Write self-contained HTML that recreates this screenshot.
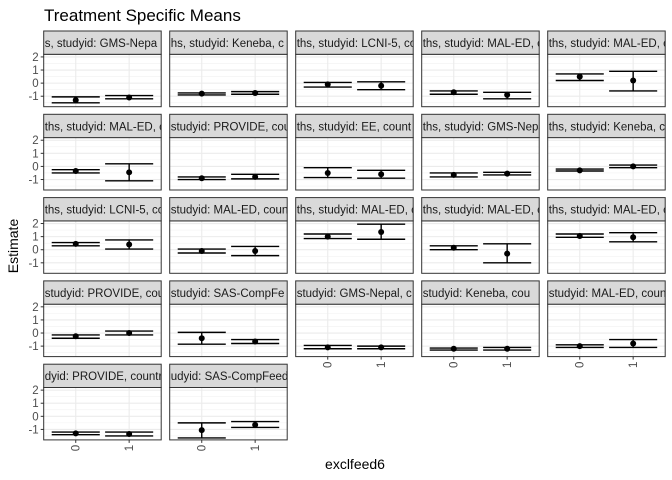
<!DOCTYPE html>
<html><head><meta charset="utf-8"><style>
html,body{margin:0;padding:0;background:#fff;}
svg{display:block;font-family:"Liberation Sans",sans-serif;}
</style></head><body>
<svg id="chart" width="672" height="480" viewBox="0 0 672 480">
<text x="44" y="21" font-size="17" fill="#000">Treatment Specific Means</text>
<text transform="translate(18,246) rotate(-90)" text-anchor="middle" font-size="14" fill="#000">Estimate</text>
<text x="355" y="469" text-anchor="middle" font-size="14" fill="#000">exclfeed6</text>
<g id="panels"></g>
</svg>
<script>
const stripLabels = ["s, studyid: GMS-Nepa","hs, studyid: Keneba, c","ths, studyid: LCNI-5, co","ths, studyid: MAL-ED, cou","ths, studyid: MAL-ED, c",
"ths, studyid: MAL-ED, c","studyid: PROVIDE, cou","ths, studyid: EE, count","ths, studyid: GMS-Nepal","ths, studyid: Keneba, c",
"ths, studyid: LCNI-5, co","studyid: MAL-ED, coun","ths, studyid: MAL-ED, c","ths, studyid: MAL-ED, c","ths, studyid: MAL-ED, c",
"studyid: PROVIDE, cou","studyid: SAS-CompFe","studyid: GMS-Nepal, c","studyid: Keneba, cou","studyid: MAL-ED, country",
"dyid: PROVIDE, countr","udyid: SAS-CompFeed"];
const categories = ["0","1"];
const est0 = [-1.3,-0.8,-0.1,-0.7,0.5, -0.35,-0.9,-0.5,-0.65,-0.3, 0.45,-0.1,1.0,0.15,1.05, -0.25,-0.4,-1.1,-1.2,-1.0, -1.3,-1.05];
const lo0  = [-1.5,-0.9,-0.3,-0.85,0.2, -0.5,-1.0,-0.85,-0.8,-0.35, 0.3,-0.25,0.85,0.0,0.95, -0.4,-0.85,-1.2,-1.3,-1.1, -1.4,-1.65];
const hi0  = [-1.05,-0.75,0.05,-0.6,0.7, -0.25,-0.8,-0.1,-0.5,-0.2, 0.55,0.05,1.2,0.3,1.2, -0.15,0.05,-0.95,-1.15,-0.9, -1.2,-0.5];
const est1 = [-1.1,-0.75,-0.2,-0.9,0.2, -0.45,-0.8,-0.6,-0.55,0.0, 0.4,-0.1,1.35,-0.3,0.95, 0.0,-0.65,-1.1,-1.2,-0.8, -1.35,-0.65];
const lo1  = [-1.2,-0.85,-0.5,-1.2,-0.6, -1.1,-0.95,-0.9,-0.65,-0.1, 0.05,-0.45,0.8,-1.0,0.6, -0.15,-0.8,-1.2,-1.3,-1.1, -1.5,-0.85];
const hi1  = [-0.95,-0.65,0.1,-0.7,0.9, 0.2,-0.6,-0.3,-0.45,0.1, 0.75,0.25,1.95,0.45,1.3, 0.15,-0.5,-1.0,-1.1,-0.5, -1.2,-0.4];
const yTicks = [-1,0,1,2];
const yMinor = [-1.5,-0.5,0.5,1.5];

const NS="http://www.w3.org/2000/svg";
const root=document.getElementById('panels');
function mk(tag,attrs,parent){const e=document.createElementNS(NS,tag);for(const k in attrs)e.setAttribute(k,attrs[k]);(parent||root).appendChild(e);return e;}
const PW=117.5, PH=52.4, SH=23.3, YMIN=-1.8, YMAX=2.2;
const bottomRow=[3,3,3,3,3]; // per column, which row has x-axis
const est=[est0,est1], lo=[lo0,lo1], hi=[hi0,hi1];
stripLabels.forEach((lab,i)=>{
  const r=Math.floor(i/5), c=i%5;
  const L=43.7+c*126, ST=31+r*83.3, T=ST+SH, B=T+PH;
  const xs=v=>L+(v+0.6)/2.2*PW;
  const ys=v=>B-(v-YMIN)/(YMAX-YMIN)*PH;
  const g=mk('g',{});
  
  
  mk('rect',{x:L,y:T,width:PW,height:PH,fill:'#fff'},g);
  yMinor.forEach(v=>mk('line',{x1:L,x2:L+PW,y1:ys(v),y2:ys(v),stroke:'#f2f2f2','stroke-width':0.6},g));
  yTicks.forEach(v=>mk('line',{x1:L,x2:L+PW,y1:ys(v),y2:ys(v),stroke:'#ebebeb','stroke-width':1.1},g));
  categories.forEach((cat,k)=>mk('line',{x1:xs(k),x2:xs(k),y1:T,y2:B,stroke:'#ebebeb','stroke-width':1.1},g));
  categories.forEach((cat,k)=>{
    const eb=mk('g',{},g);
    
    
    const x=xs(k), hw=0.45/2.2*PW;
    mk('line',{x1:x-hw,x2:x+hw,y1:ys(lo[k][i]),y2:ys(lo[k][i]),stroke:'#000','stroke-width':1.4},eb);
    mk('line',{x1:x-hw,x2:x+hw,y1:ys(hi[k][i]),y2:ys(hi[k][i]),stroke:'#000','stroke-width':1.4},eb);
    mk('line',{x1:x,x2:x,y1:ys(lo[k][i]),y2:ys(hi[k][i]),stroke:'#000','stroke-width':1.4},eb);
    const p=mk('circle',{cx:x,cy:ys(est[k][i]),r:3,fill:'#000'},eb);
    
    
  });
  mk('rect',{x:L,y:T,width:PW,height:PH,fill:'none',stroke:'#333','stroke-width':1},g);
  // strip
  const cid='clip'+i;
  const cp=mk('clipPath',{id:cid},g);
  mk('rect',{x:L,y:ST,width:PW,height:SH},cp);
  mk('rect',{x:L,y:ST,width:PW,height:SH,fill:'#d9d9d9',stroke:'#333','stroke-width':1},g);
  const t=mk('text',{x:L+1,y:ST+16,'font-size':11.5,fill:'#1a1a1a','clip-path':'url(#'+cid+')'},g);
  
  
  t.textContent=lab;
  if(c===0){
    yTicks.forEach(v=>{
      mk('line',{x1:L-3,x2:L,y1:ys(v),y2:ys(v),stroke:'#333'},g);
      const tt=mk('text',{x:L-5,y:ys(v)+4,'text-anchor':'end','font-size':11.5,fill:'#4d4d4d'},g);
      
      
      tt.textContent=v;
    });
  }
  const isBottom = (r===4) || (r===3 && c>=2);
  if(isBottom){
    categories.forEach((cat,k)=>{
      mk('line',{x1:xs(k),x2:xs(k),y1:B,y2:B+3,stroke:'#333'},g);
      const tt=mk('text',{transform:'translate('+(xs(k)+4)+','+(B+5)+') rotate(-90)','text-anchor':'end','font-size':11.5,fill:'#4d4d4d'},g);
      
      
      tt.textContent=cat;
    });
  }
});
</script>
</body></html>
